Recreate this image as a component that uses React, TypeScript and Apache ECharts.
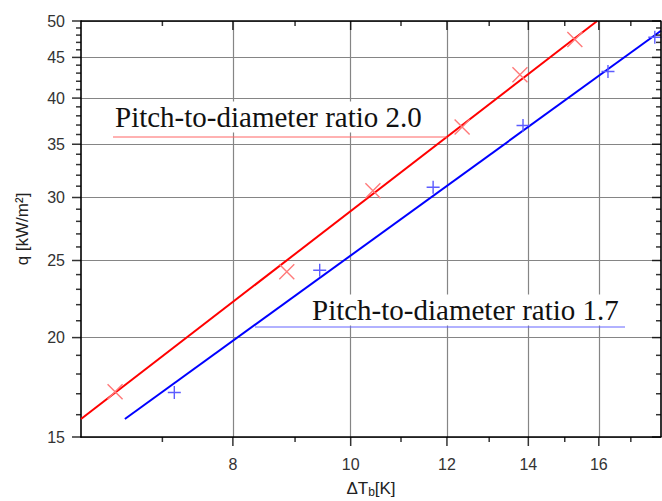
import React, { useEffect, useRef } from "react";
import * as echarts from "echarts";

// Axis ranges (log-log plot)
const xRange = [6, 18];
const yRange = [15, 50];

// Tick values
const xMajorTicks = [8, 10, 12, 14, 16];
const xMinorTicks = [7, 9, 11, 13, 15, 17];
const yMajorTicks = [15, 20, 25, 30, 35, 40, 45, 50];
const yMinorTicks = [
  16, 17, 18, 19, 21, 22, 23, 24, 26, 27, 28, 29, 31, 32, 33, 34,
  36, 37, 38, 39, 41, 42, 43, 44, 46, 47, 48, 49,
];

// Measured points  [ΔTb (K), q (kW/m²)]
const ratio20Points = [
  [6.4, 17.1],
  [8.86, 24.2],
  [10.43, 30.6],
  [12.35, 36.8],
  [13.78, 42.8],
  [15.29, 47.4],
];
const ratio17Points = [
  [7.16, 17.06],
  [9.43, 24.3],
  [11.69, 30.9],
  [13.86, 36.95],
  [16.28, 43.2],
  [17.79, 47.7],
];

// Fitted lines (end points)
const ratio20Fit = [
  [6.0, 15.8],
  [15.95, 50],
];
const ratio17Fit = [
  [6.52, 15.8],
  [18.0, 48.6],
];

const label20 = "Pitch-to-diameter ratio 2.0";
const label17 = "Pitch-to-diameter ratio 1.7";

const MAJOR_LEN = 9;
const MINOR_LEN = 5;
const TICK_W = 1.5;

const L = (v: number) => Math.log(v);
const toLog = (pts: number[][]) => pts.map(([x, y]) => [L(x), L(y)]);

const axisLineStyle = { color: "#000", width: 1.6 };
const labelFont = { fontSize: 16, fontFamily: "Liberation Sans", color: "#333" };

function xTicks(vals: number[], atY: number, len: number) {
  return {
    type: "scatter",
    data: vals.map((v) => [L(v), L(atY)]),
    symbol: "rect",
    symbolSize: [TICK_W, len],
    symbolOffset: [0, len / 2],
    itemStyle: { color: "#000" },
    silent: true,
    clip: false,
    z: 10,
  };
}
function yTicks(vals: number[], atX: number, len: number) {
  return {
    type: "scatter",
    data: vals.map((v) => [L(atX), L(v)]),
    symbol: "rect",
    symbolSize: [len, TICK_W],
    symbolOffset: [-len / 2, 0],
    itemStyle: { color: "#000" },
    silent: true,
    clip: false,
    z: 10,
  };
}

export default function App() {
  const ref = useRef<HTMLDivElement>(null);
  useEffect(() => {
    if (!ref.current) return;
    const chart = echarts.init(ref.current, null, { renderer: "svg" });
    const fmt = (v: number) => String(Math.round(Math.exp(v)));

    const option = {
      animation: false,
      backgroundColor: "#fff",
      grid: { left: 81, right: 1, top: 21, bottom: 64, containLabel: false, outerBoundsMode: "none" },
      xAxis: {
        type: "value",
        position: "bottom",
        min: L(xRange[0]),
        max: L(xRange[1]),
        axisLine: { show: true, onZero: false, lineStyle: axisLineStyle },
        axisTick: { show: false, customValues: xMajorTicks.map(L) },
        axisLabel: { customValues: xMajorTicks.map(L), formatter: fmt, margin: 19, ...labelFont },
        splitLine: { show: true, lineStyle: { color: "#858585", width: 1.2 } },
        name: "ΔT{sub|b}[K]",
        nameLocation: "middle",
        nameGap: 42,
        nameTextStyle: {
          fontSize: 17,
          fontFamily: "Liberation Sans",
          color: "#222",
          rich: { sub: { fontSize: 12, fontFamily: "Liberation Sans", color: "#222", padding: [7, 0, 0, 0] } },
        },
      },
      yAxis: {
        type: "value",
        position: "left",
        min: L(yRange[0]),
        max: L(yRange[1]),
        axisLine: { show: true, onZero: false, lineStyle: axisLineStyle },
        axisTick: { show: false, customValues: yMajorTicks.map(L) },
        axisLabel: { customValues: yMajorTicks.map(L), formatter: fmt, margin: 16, ...labelFont },
        splitLine: { show: true, lineStyle: { color: "#858585", width: 1.2 } },
        name: "q [kW/m²]",
        nameLocation: "middle",
        nameGap: 50,
        nameTextStyle: { fontSize: 17, fontFamily: "Liberation Sans", color: "#222" },
      },
      series: [
        {
          type: "line",
          data: toLog(ratio20Fit),
          showSymbol: false,
          lineStyle: { color: "#ff0000", width: 2 },
          z: 3,
        },
        {
          type: "line",
          data: toLog(ratio17Fit),
          showSymbol: false,
          lineStyle: { color: "#0000ff", width: 2 },
          z: 3,
        },
        {
          type: "scatter",
          data: toLog(ratio20Points),
          symbol: "path://M0,0L10,10M10,0L0,10",
          symbolSize: 15,
          itemStyle: { color: "none", borderColor: "#ff7a7a", borderWidth: 1.4, opacity: 1 },
          z: 4,
        },
        {
          type: "scatter",
          data: toLog(ratio17Points),
          symbol: "path://M5,0L5,10M0,5L10,5",
          symbolSize: 13,
          itemStyle: { color: "none", borderColor: "#5c5cff", borderWidth: 1.4, opacity: 1 },
          z: 4,
        },
        // ticks: bottom (outward) / top (inward) / left (outward) / right (inward)
        xTicks(xMajorTicks, yRange[0], MAJOR_LEN),
        xTicks(xMinorTicks, yRange[0], MINOR_LEN),
        xTicks(xMajorTicks, yRange[1], MAJOR_LEN),
        xTicks(xMinorTicks, yRange[1], MINOR_LEN),
        yTicks(yMajorTicks, xRange[0], MAJOR_LEN),
        yTicks(yMinorTicks, xRange[0], MINOR_LEN),
        yTicks(yMajorTicks, xRange[1], MAJOR_LEN),
        yTicks(yMinorTicks, xRange[1], MINOR_LEN),
        // top / right frame lines
        {
          type: "line",
          data: [
            [L(xRange[0]), L(yRange[1])],
            [L(xRange[1]), L(yRange[1])],
            [L(xRange[1]), L(yRange[0])],
          ],
          showSymbol: false,
          silent: true,
          clip: false,
          lineStyle: { color: "#000", width: 1.6 },
          z: 9,
        },
      ],
      graphic: [
        {
          type: "text",
          z: 50,
          style: {
            text: label20,
            x: 113,
            y: 117,
            fontSize: 29,
            fontFamily: "Liberation Serif",
            fill: "#111",
            align: "left",
            verticalAlign: "middle",
            backgroundColor: "#fff",
            padding: [1, 2, 1, 2],
          },
        },
        {
          type: "line",
          z: 50,
          shape: { x1: 113, y1: 137, x2: 447, y2: 137 },
          style: { stroke: "#ff6464", lineWidth: 1 },
        },
        {
          type: "text",
          z: 50,
          style: {
            text: label17,
            x: 310,
            y: 310,
            fontSize: 29,
            fontFamily: "Liberation Serif",
            fill: "#111",
            align: "left",
            verticalAlign: "middle",
            backgroundColor: "#fff",
            padding: [1, 2, 1, 2],
          },
        },
        {
          type: "line",
          z: 50,
          shape: { x1: 255, y1: 327, x2: 625, y2: 327 },
          style: { stroke: "#6464ff", lineWidth: 1 },
        },
      ],
    };
    chart.setOption(option as any);
    return () => chart.dispose();
  }, []);
  return (
    <div
      ref={ref}
      style={{ position: "absolute", left: 0, top: 0, width: 662, height: 501 }}
    />
  );
}
